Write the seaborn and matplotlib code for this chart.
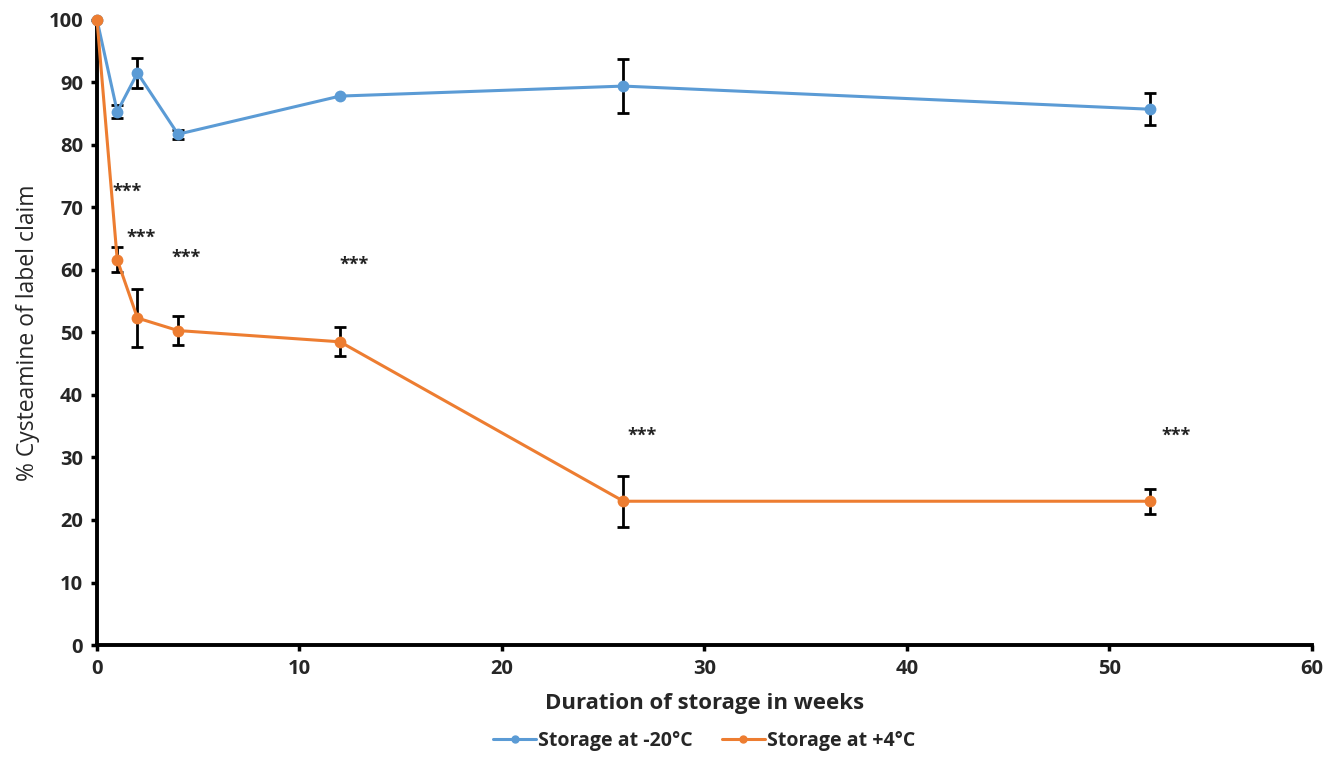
import pandas as pd
import matplotlib
matplotlib.use('Agg')
import matplotlib.pyplot as plt
import seaborn as sns

# Values
weeks = [0, 1, 2, 4, 12, 26, 52]
minus20 = [100, 85.3, 91.5, 81.7, 87.8, 89.4, 85.7]
minus20_err = [0, 1.0, 2.4, 0.7, 0, 4.3, 2.6]
plus4 = [100, 61.6, 52.3, 50.3, 48.5, 23.0, 23.0]
plus4_err = [0, 2.0, 4.7, 2.3, 2.3, 4.1, 2.0]
series_names = ['Storage at -20°C', 'Storage at +4°C']
star_x = [1.5, 2.2, 4.4, 12.7, 26.9, 53.3]
star_y = [72.5, 65.2, 62.0, 60.9, 33.4, 33.4]

colors = {'Storage at -20°C': '#5B9BD5', 'Storage at +4°C': '#ED7D31'}

df = pd.concat([
    pd.DataFrame({'week': weeks, 'value': minus20, 'err': minus20_err, 'series': series_names[0]}),
    pd.DataFrame({'week': weeks, 'value': plus4, 'err': plus4_err, 'series': series_names[1]}),
])

sns.set_style('white')
plt.rcParams['font.family'] = ['Open Sans', 'DejaVu Sans']

fig, ax = plt.subplots(figsize=(13.36, 7.62), dpi=100)
fig.subplots_adjust(left=0.0726, right=0.982, top=0.974, bottom=0.1535)

# Error bars (black, capped), drawn under the markers
for name in series_names:
    sub = df[df['series'] == name]
    sub = sub[sub['err'] > 0]
    ax.errorbar(sub['week'], sub['value'], yerr=sub['err'], fmt='none',
                ecolor='black', elinewidth=2, capsize=4, capthick=2, zorder=2)

sns.lineplot(data=df, x='week', y='value', hue='series', palette=colors,
             marker='o', markersize=8.5, markeredgewidth=0, linewidth=2.2,
             ax=ax, legend=False, zorder=3)
for line in ax.get_lines():
    line.set_clip_on(False)

# Significance markers
for sx, sy in zip(star_x, star_y):
    ax.text(sx, sy, '***', ha='center', va='center', fontsize=13,
            fontweight='bold', color='#222222')

ax.set_xlim(0, 60)
ax.set_ylim(0, 100)
ax.set_xticks(range(0, 61, 10))
ax.set_yticks(range(0, 101, 10))
ax.tick_params(axis='both', labelsize=14.5, length=4, width=2.5, direction='out',
               bottom=True, left=True, color='black', pad=6)
for lbl in ax.get_xticklabels() + ax.get_yticklabels():
    lbl.set_fontweight('bold')

for side in ['top', 'right']:
    ax.spines[side].set_visible(False)
for side in ['left', 'bottom']:
    ax.spines[side].set_color('black')
    ax.spines[side].set_linewidth(2.8)

ax.set_xlabel('Duration of storage in weeks', fontsize=16, fontweight='bold', labelpad=10)
ax.set_ylabel('% Cysteamine of label claim', fontsize=16.5, fontweight='normal', labelpad=6)

handles = [plt.Line2D([], [], color=colors[n], marker='o', markersize=5, linewidth=2.2)
           for n in series_names]
fig.legend(handles, series_names, loc='lower center', bbox_to_anchor=(0.527, -0.008),
           ncol=2, frameon=False, handlelength=2.2, handletextpad=0.1, columnspacing=1.5,
           prop={'weight': 'bold', 'size': 14})

fig.savefig('out.png', dpi=100)
